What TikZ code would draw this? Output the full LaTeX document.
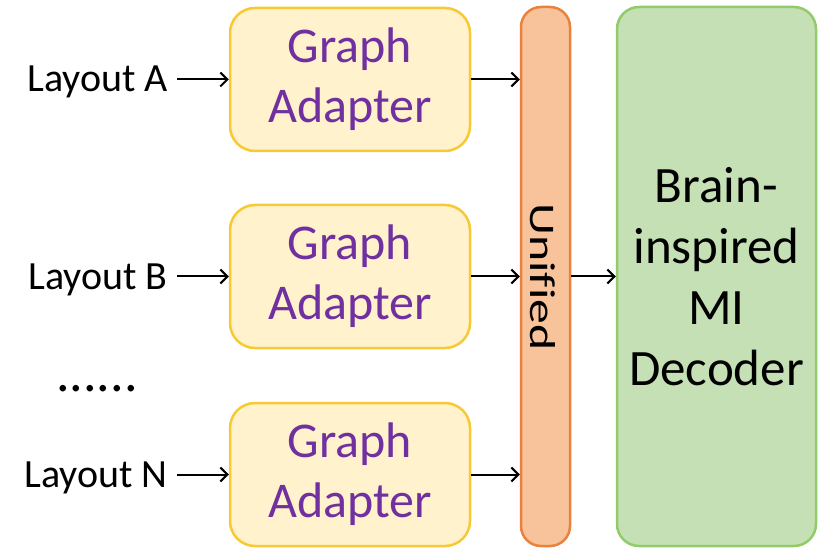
\documentclass[tikz,border=0pt]{standalone}
\usepackage{fontspec}
\setmainfont{Carlito}[Ligatures=NoCommon]
\usetikzlibrary{arrows.meta}
\definecolor{adfill}{HTML}{FFF2CC}
\definecolor{addraw}{HTML}{F7C934}
\definecolor{unfill}{HTML}{F8C39B}
\definecolor{undraw}{HTML}{E9823F}
\definecolor{defill}{HTML}{C5E0B4}
\definecolor{dedraw}{HTML}{92CC6A}
\definecolor{purp}{HTML}{7030A0}
\tikzset{
  adapter/.style={draw=addraw, fill=adfill, line width=2.5pt, rounded corners=25pt,
    minimum width=240pt, minimum height=143pt, inner sep=0pt, align=center,
    text=purp, font=\fontsize{50}{60}\selectfont},
  unibox/.style={draw=undraw, fill=unfill, line width=2.5pt, rounded corners=20pt,
    minimum width=49pt, minimum height=539pt, inner sep=0pt},
  decbox/.style={draw=dedraw, fill=defill, line width=2.5pt, rounded corners=22pt,
    minimum width=199pt, minimum height=539pt, inner sep=0pt, align=center,
    font=\fontsize{51}{61}\selectfont},
  lay/.style={inner sep=0pt, anchor=base east, font=\fontsize{40}{47}\selectfont},
  arr/.style={line width=2pt, -{Straight Barb[length=7pt,width=14pt,line width=2pt]}}
}
\begin{document}
\begin{tikzpicture}[x=1pt,y=-1pt]
\useasboundingbox (0,0) rectangle (828,548);
\node[adapter] (aA) at (350,79.5) {Graph\\Adapter};
\node[adapter] (aB) at (350,276.5) {Graph\\Adapter};
\node[adapter] (aN) at (350,474.5) {Graph\\Adapter};
\node[unibox] (uni) at (545.5,276.5) {};
\node[rotate=-90, inner sep=0pt, font=\fontsize{36}{40}\selectfont] (unit) at (543,277) {\scalebox{1.38}[1]{Unified}};
\node[decbox] (dec) at (716.5,276.5) {Brain-\\inspired\\MI\\Decoder};
\node[lay] (lA) at (168,92) {Layout A};
\node[lay] (lB) at (168,290) {Layout B};
\node[lay] (lN) at (168,487) {Layout N};
\node[inner sep=0pt, anchor=base, font=\fontsize{54}{60}\selectfont] (dots) at (97,391) {......};
\draw[arr] ([xshift=9pt]lA.east |- aA.west) -- (aA.west);
\draw[arr] ([xshift=9pt]lB.east |- aB.west) -- (aB.west);
\draw[arr] ([xshift=9pt]lN.east |- aN.west) -- (aN.west);
\draw[arr] (aA.east) -- (aA.east -| uni.west);
\draw[arr] (aB.east) -- (aB.east -| uni.west);
\draw[arr] (aN.east) -- (aN.east -| uni.west);
\draw[arr] (uni.east) -- (dec.west);
\end{tikzpicture}
\end{document}
